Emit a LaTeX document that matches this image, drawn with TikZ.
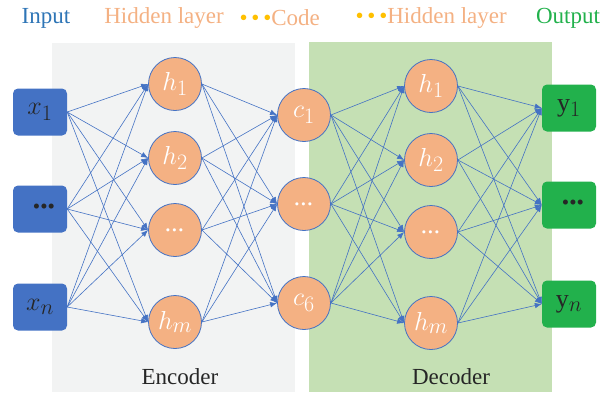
\RequirePackage{fix-cm}
\documentclass[tikz,border=0pt]{standalone}
\usepackage{fontspec}
\setmainfont{Liberation Serif}
\usetikzlibrary{positioning}
\usetikzlibrary{arrows.meta}
\DeclareMathSizes{26}{26}{22}{16}

\definecolor{netblue}{HTML}{4472C4}
\definecolor{inblue}{HTML}{2E75B6}
\definecolor{outgreen}{HTML}{22B14C}
\definecolor{unitorange}{HTML}{F4B183}
\definecolor{codegold}{HTML}{FFC000}
\definecolor{encgray}{HTML}{F2F3F3}
\definecolor{decgreen}{HTML}{C5E0B4}
\newcommand{\boxdots}{\hspace*{8pt}{\fontsize{21}{24}\selectfont\textbullet\textbullet\textbullet}}

\begin{document}
\begin{tikzpicture}[x=1pt,y=-1pt,
  lbl/.style={font=\fontsize{23}{26}\selectfont},
  inbox/.style={fill=netblue, rounded corners=5pt, minimum width=54pt, minimum height=47pt,
    text=black!85, font=\fontsize{26}{30}\selectfont},
  outbox/.style={inbox, fill=outgreen},
  unit/.style={circle, fill=unitorange, draw=netblue, line width=0.8pt, minimum size=53pt,
    inner sep=0pt, text=white, font=\fontsize{26}{30}\selectfont},
  link/.style={netblue, line width=0.6pt, -{Latex[length=7pt,width=5.5pt]}}]
\useasboundingbox (0,0) rectangle (604,392);

% backgrounds
\fill[encgray] (52,43) rectangle (295,392);
\fill[decgreen] (309,42) rectangle (552,392);

% headers
\node[lbl, text=inblue] (tin) at (46,18) {Input};
\node[lbl, text=unitorange] (thid1) at (164,18) {Hidden layer};
\node[lbl, text=unitorange, anchor=west] (tcode) at (236,18) {{\color{codegold}\textbullet\,\textbullet\,\textbullet}Code};
\node[lbl, text=unitorange, anchor=west] (thid2) at (352,18) {{\color{codegold}\textbullet\,\textbullet\,\textbullet}Hidden layer};
\node[lbl, text=outgreen] (tout) at (568,18) {Output};
\node[lbl, text=black!85] (tenc) at (180,377) {Encoder};
\node[lbl, text=black!85] (tdec) at (451,377) {Decoder};

% input layer
\node[inbox] (x1) at (40,112) {$x_1$};
\node[inbox] (xd) at (40,209) {\boxdots};
\node[inbox] (xn) at (40,307) {$x_n$};

% encoder hidden layer
\node[unit] (eh1) at (175,84) {$h_1$};
\node[unit] (eh2) at (175,158) {$h_2$};
\node[unit] (ehd) at (175,230) {\textit{...}};
\node[unit] (ehm) at (175,322) {$h_m$};

% code
\node[unit] (c1) at (304,115) {$c_1$};
\node[unit] (cd) at (304,204) {\textit{...}};
\node[unit] (c6) at (304,303) {$c_6$};

% decoder hidden layer
\node[unit] (dh1) at (431,86) {$h_1$};
\node[unit] (dh2) at (431,160) {$h_2$};
\node[unit] (dhd) at (431,232) {\textit{...}};
\node[unit] (dhm) at (431,323) {$h_m$};

% output layer
\node[outbox] (y1) at (569,108) {$\mathrm{y}_1$};
\node[outbox] (yd) at (569,205) {\boxdots};
\node[outbox] (yn) at (569,304) {$\mathrm{y}_n$};

% connections
\foreach \s in {x1,xd,xn}
  \foreach \t in {eh1,eh2,ehd,ehm}
    \draw[link] (\s.east) -- (\t.west);
\foreach \s in {eh1,eh2,ehd,ehm}
  \foreach \t in {c1,cd,c6}
    \draw[link] (\s.east) -- (\t.west);
\foreach \s in {c1,cd,c6}
  \foreach \t in {dh1,dh2,dhd,dhm}
    \draw[link] (\s.east) -- (\t.west);
\foreach \s in {dh1,dh2,dhd,dhm}
  \foreach \t in {y1,yd,yn}
    \draw[link] (\s.east) -- (\t.west);
\end{tikzpicture}
\end{document}
